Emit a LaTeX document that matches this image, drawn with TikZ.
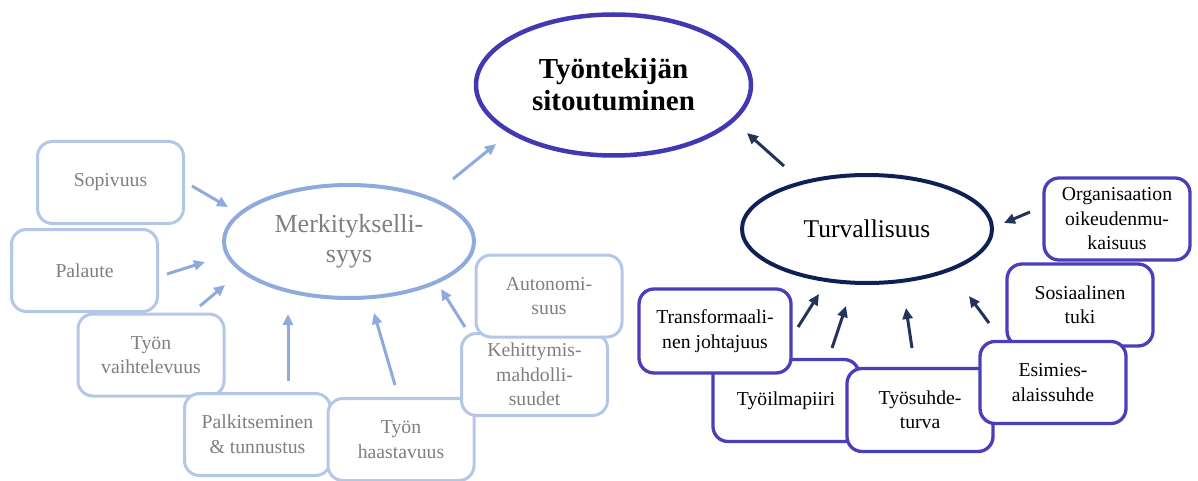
\documentclass[tikz,border=0pt]{standalone}
\usepackage{fontspec}
\setmainfont{Liberation Serif}
\usetikzlibrary{shapes.geometric,arrows.meta}

\definecolor{paleedge}{HTML}{B4C7E7}
\definecolor{paleline}{HTML}{8FAADC}
\definecolor{palegray}{HTML}{7F7F7F}
\definecolor{violetedge}{RGB}{66,57,178}
\definecolor{boxedge}{RGB}{74,62,186}
\definecolor{navyedge}{RGB}{14,33,86}
\definecolor{navyline}{RGB}{35,52,90}

\tikzset{
  palebox/.style={draw=paleedge, line width=3pt, fill=white, rounded corners=15pt,
    minimum width=146pt, minimum height=82pt, inner sep=0pt, align=center,
    text=palegray, font=\fontsize{19.7}{24.5}\selectfont},
  darkbox/.style={draw=boxedge, line width=3.3pt, fill=white, rounded corners=15pt,
    minimum width=146pt, minimum height=82pt, inner sep=0pt, align=center,
    text=black, font=\fontsize{19.7}{24.5}\selectfont},
  paleflow/.style={draw=paleline, line width=3pt, -{Triangle[length=11pt,width=10pt]}},
  darkflow/.style={draw=navyline, line width=3pt, -{Triangle[length=11pt,width=10pt]}},
}

\begin{document}
\begin{tikzpicture}[x=1pt,y=-1pt]
\useasboundingbox (0,0) rectangle (1198,481);

% central outcome
\node[ellipse, draw=violetedge, line width=4.5pt, minimum width=275pt, minimum height=141pt,
  inner sep=0pt, align=center, font=\fontsize{29}{32}\selectfont\bfseries]
  (outcome) at (613.5,85) {Työntekijän\\sitoutuminen};

% meaningfulness cluster
\node[ellipse, draw=paleline, line width=4pt, minimum width=250pt, minimum height=113pt,
  inner sep=0pt, align=center, text=palegray, font=\fontsize{26}{30}\selectfont]
  (merk) at (349,241.5) {Merkitykselli-\\syys};

\node[palebox] (sopivuus) at (110.5,182.5) {Sopivuus};
\node[palebox] (palaute) at (84.5,270.5) {Palaute};
\node[palebox] (vaiht) at (151,355) {Työn\\vaihtelevuus};
\node[palebox] (palkit) at (257.5,434.5) {Palkitseminen\\\& tunnustus};
\node[palebox] (haast) at (401,439.5) {Työn\\haastavuus};
\node[palebox] (kehit) at (534.5,374.5) {Kehittymis-\\mahdolli-\\suudet};
\node[palebox] (auton) at (549,296) {Autonomi-\\suus};

% safety cluster
\node[ellipse, draw=navyedge, line width=4pt, minimum width=250pt, minimum height=108pt,
  inner sep=0pt, text=black, font=\fontsize{25.5}{30}\selectfont]
  (turv) at (867,229) {Turvallisuus};

\node[darkbox] (org) at (1117,219) {Organisaation\\oikeudenmu-\\kaisuus};
\node[darkbox] (sos) at (1080,305) {Sosiaalinen\\tuki};
\node[darkbox] (ilma) at (786,400.5) {Työilmapiiri};
\node[darkbox, minimum width=152pt, minimum height=84pt] (trans) at (715,331) {Transformaali-\\nen johtajuus};
\node[darkbox, minimum height=83pt] (suhde) at (920,410) {Työsuhde-\\turva};
\node[darkbox] (esim) at (1053,382.5) {Esimies-\\alaissuhde};

% arrow end points
\coordinate (sop-s) at (192,186);  \coordinate (sop-t) at (228,207);
\coordinate (pal-s) at (167,274);  \coordinate (pal-t) at (205,262);
\coordinate (vai-s) at (200,306);  \coordinate (vai-t) at (225,285);
\coordinate (pak-s) at (288,381);  \coordinate (pak-t) at (288,314);
\coordinate (haa-s) at (395,385);  \coordinate (haa-t) at (374,313);
\coordinate (keh-s) at (465,327);  \coordinate (keh-t) at (441,289);
\coordinate (mer-s) at (453,179);  \coordinate (mer-t) at (496,144);

\coordinate (org-s) at (1030,212); \coordinate (org-t) at (1004,223);
\coordinate (tra-s) at (798,327);  \coordinate (tra-t) at (819,294);
\coordinate (ilm-s) at (832,348);  \coordinate (ilm-t) at (846,306);
\coordinate (suh-s) at (912,348);  \coordinate (suh-t) at (906,308);
\coordinate (esi-s) at (989,323);  \coordinate (esi-t) at (969,296);
\coordinate (tur-s) at (784,166);  \coordinate (tur-t) at (747,133);

\draw[paleflow] (sop-s) -- (sop-t);
\draw[paleflow] (pal-s) -- (pal-t);
\draw[paleflow] (vai-s) -- (vai-t);
\draw[paleflow] (pak-s) -- (pak-t);
\draw[paleflow] (haa-s) -- (haa-t);
\draw[paleflow] (keh-s) -- (keh-t);
\draw[paleflow] (mer-s) -- (mer-t);

\draw[darkflow] (org-s) -- (org-t);
\draw[darkflow] (tra-s) -- (tra-t);
\draw[darkflow] (ilm-s) -- (ilm-t);
\draw[darkflow] (suh-s) -- (suh-t);
\draw[darkflow] (esi-s) -- (esi-t);
\draw[darkflow] (tur-s) -- (tur-t);
\end{tikzpicture}
\end{document}
